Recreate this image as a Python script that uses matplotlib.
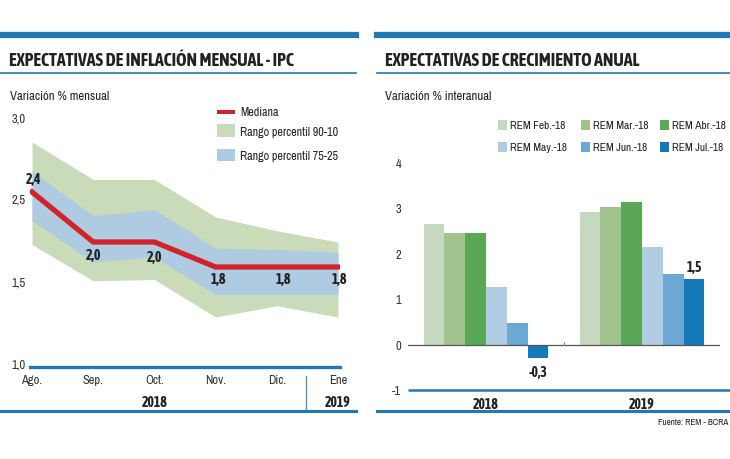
import matplotlib
matplotlib.use("Agg")
import matplotlib.pyplot as plt
from matplotlib import font_manager
from matplotlib.patches import Rectangle
from matplotlib.lines import Line2D

# ---- data: inflation expectations (left panel)
months = ["Ago.", "Sep.", "Oct.", "Nov.", "Dic.", "Ene"]
median = [2.4, 2.0, 2.0, 1.8, 1.8, 1.8]
p90 = [2.80, 2.50, 2.50, 2.20, 2.09, 2.00]
p75 = [2.57, 2.21, 2.26, 1.95, 1.94, 1.92]
p25 = [2.17, 1.84, 1.88, 1.58, 1.58, 1.58]
p10 = [1.98, 1.69, 1.70, 1.40, 1.49, 1.40]
median_labels = ["2,4", "2,0", "2,0", "1,8", "1,8", "1,8"]
left_ticks = [3.0, 2.35, 1.69, 1.03]
left_tick_labels = ["3,0", "2,5", "1,5", "1,0"]

# ---- data: growth expectations (right panel)
years = ["2018", "2019"]
surveys = ["REM Feb.-18", "REM Mar.-18", "REM Abr.-18",
           "REM May.-18", "REM Jun.-18", "REM Jul.-18"]
growth_2018 = [2.65, 2.44, 2.44, 1.26, 0.47, -0.3]
growth_2019 = [2.92, 3.03, 3.13, 2.14, 1.55, 1.45]
bar_colors = ["#c6d8bf", "#a1c38e", "#5aa857", "#b0cde3", "#6ba8d4", "#1479b8"]

# look for a narrow / condensed face on the system
reg_file, bold_file = None, None
for f in font_manager.fontManager.ttflist:
    tag = (f.name + " " + f.fname).lower()
    if ("condensed" in tag or "narrow" in tag) and f.style == "normal":
        if "bold" in f.fname.lower() or f.weight in (700, "bold"):
            if bold_file is None or "dejavu" in bold_file.lower():
                bold_file = f.fname
        elif "light" not in tag and "thin" not in tag:
            if reg_file is None or "dejavu" in reg_file.lower():
                reg_file = f.fname

if reg_file and bold_file:
    FN = dict(fontproperties=font_manager.FontProperties(fname=reg_file))
    FB = dict(fontproperties=font_manager.FontProperties(fname=bold_file))
    scale = 1.0
else:
    plt.rcParams['font.family'] = ['Roboto', 'DejaVu Sans']
    FN = dict(family=['Roboto', 'DejaVu Sans'])
    FB = dict(family=['Roboto', 'DejaVu Sans'], fontweight="bold")
    scale = 0.85


def fnt(bold, size):
    d = dict(FB if bold else FN)
    if "fontproperties" in d:
        p = d["fontproperties"].copy()
        p.set_size(size * scale)
        return dict(fontproperties=p)
    d["fontsize"] = size * scale
    return d


BLUE = "#2277b5"
TXT = "#222222"
W, H = 730, 460


def fx(x):
    return x / W


def fy(y):
    return 1 - y / H


fig = plt.figure(figsize=(7.3, 4.6), dpi=100)

# header / footer decorations
for x0, x1 in [(0, 356), (377, 730)]:
    fig.add_artist(Line2D([fx(x0), fx(x1)], [fy(36), fy(36)], color=BLUE, lw=4.5))
    fig.add_artist(Line2D([fx(x0), fx(x1)], [fy(74), fy(74)], color=BLUE, lw=1.2))
    fig.add_artist(Line2D([fx(x0), fx(x1)], [fy(412), fy(412)], color=BLUE, lw=2.2))

fig.text(fx(9), fy(61), "EXPECTATIVAS DE INFLACIÓN MENSUAL - IPC", color=TXT,
         va="center", ha="left", **fnt(True, 12.9))
fig.text(fx(385), fy(61), "EXPECTATIVAS DE CRECIMIENTO ANUAL", color=TXT,
         va="center", ha="left", **fnt(True, 12.9))
fig.text(fx(10), fy(97), "Variación % mensual", color=TXT, va="center", **fnt(False, 9.2))
fig.text(fx(385), fy(97), "Variación % interanual", color=TXT, va="center", **fnt(False, 9.2))
fig.text(fx(728), fy(423), "Fuente: REM - BCRA", color=TXT, va="center", ha="right",
         **fnt(False, 6.5))

# ---------------- left panel
ax = fig.add_axes([fx(30), fy(368), 310 / W, 250 / H])
x = list(range(len(months)))
ax.fill_between(x, p10, p90, color="#c9dbb9", lw=0)
ax.fill_between(x, p25, p75, color="#aecbe2", lw=0)
ax.plot(x, median, color="#d2232a", lw=3.8, solid_joinstyle="miter")

label_offsets = [(1, 9), (0, -9), (0, -11), (2, -9), (5, -9), (1, -9)]
for i, (v, lab) in enumerate(zip(median, median_labels)):
    ax.annotate(lab, (i, v), xytext=label_offsets[i], textcoords="offset points",
                ha="center", va="center", color=TXT, **fnt(True, 10))

ax.set_xlim(-0.033, 5.033)
ax.set_ylim(1.0, 3.0)
for s in ["top", "right", "left"]:
    ax.spines[s].set_visible(False)
ax.spines["bottom"].set_color(BLUE)
ax.spines["bottom"].set_linewidth(2.4)
ax.set_xticks(x, months)
ax.set_yticks(left_ticks, left_tick_labels)
ax.tick_params(length=0, colors="#333333")
ax.tick_params(axis="x", pad=5)
ax.tick_params(axis="y", pad=3)
for t in ax.get_xticklabels() + ax.get_yticklabels():
    t.set(**fnt(False, 9))
ax.text(2, -0.14, "2018", transform=ax.get_xaxis_transform(), ha="center", va="center",
        color=TXT, **fnt(True, 10))
ax.text(5, -0.14, "2019", transform=ax.get_xaxis_transform(), ha="center", va="center",
        color=TXT, **fnt(True, 10))
ax.plot([4.48, 4.48], [-0.036, -0.168], transform=ax.get_xaxis_transform(),
        color="#5a8fb5", lw=1, clip_on=False)

# left legend
fig.add_artist(Rectangle((fx(217), fy(114.5)), 18 / W, 3.5 / H, color="#d2232a", lw=0))
fig.add_artist(Rectangle((fx(217), fy(138)), 18 / W, 13 / H, color="#c9dbb9", lw=0))
fig.add_artist(Rectangle((fx(217), fy(162)), 18 / W, 12 / H, color="#aecbe2", lw=0))
fig.text(fx(240), fy(112), "Mediana", color=TXT, va="center", **fnt(False, 8.7))
fig.text(fx(240), fy(132), "Rango percentil 90-10", color=TXT, va="center", **fnt(False, 8.7))
fig.text(fx(240), fy(156), "Rango percentil 75-25", color=TXT, va="center", **fnt(False, 8.7))

# ---------------- right panel
ax2 = fig.add_axes([fx(408), fy(391), 312 / W, (391 - 154.4) / H])
w = 0.1333
for i in range(len(surveys)):
    vals = [growth_2018[i], growth_2019[i]]
    pos = [g + (i - 2.5) * w for g in range(len(years))]
    ax2.bar(pos, vals, width=w, color=bar_colors[i], lw=0)

ax2.axhline(0, color="#555555", lw=0.9)
ax2.plot([0.5, 0.5], [0, 0.06], color="#888888", lw=0.8)
ax2.annotate("-0,3", (0 + 2.5 * w, growth_2018[5]), xytext=(0, -10),
             textcoords="offset points", ha="center", va="center", color=TXT,
             **fnt(True, 10))
ax2.annotate("1,5", (1 + 2.5 * w, growth_2019[5]), xytext=(0, 8),
             textcoords="offset points", ha="center", va="center", color=TXT,
             **fnt(True, 10))

ax2.set_xlim(-0.5, 1.5)
ax2.set_ylim(-1, 4.2)
for s in ["top", "right", "left", "bottom"]:
    ax2.spines[s].set_visible(False)
# bottom rule at -1 runs on to the panel edge
ax2.plot([-0.5, 1.57], [-1, -1], color=BLUE, lw=1.8, clip_on=False,
         solid_capstyle="butt")
ax2.set_xticks([0, 1], years)
ax2.set_yticks([-1, 0, 1, 2, 3, 4], ["-1", "0", "1", "2", "3", "4"])
ax2.tick_params(length=0, colors="#333333")
ax2.tick_params(axis="x", pad=5, labelcolor=TXT)
ax2.tick_params(axis="y", pad=5)
for t in ax2.get_xticklabels():
    t.set(**fnt(True, 10))
for t in ax2.get_yticklabels():
    t.set(**fnt(False, 9))

# right legend
leg_x = [498, 581, 660]
leg_y = [126, 148]
for i, (name, col) in enumerate(zip(surveys, bar_colors)):
    cx = leg_x[i % 3]
    cy = leg_y[i // 3]
    fig.add_artist(Rectangle((fx(cx), fy(cy + 5)), 9 / W, 10 / H, color=col, lw=0))
    fig.text(fx(cx + 12), fy(cy), name, color=TXT, va="center", **fnt(False, 8.2))

fig.savefig("out.png", dpi=100)
